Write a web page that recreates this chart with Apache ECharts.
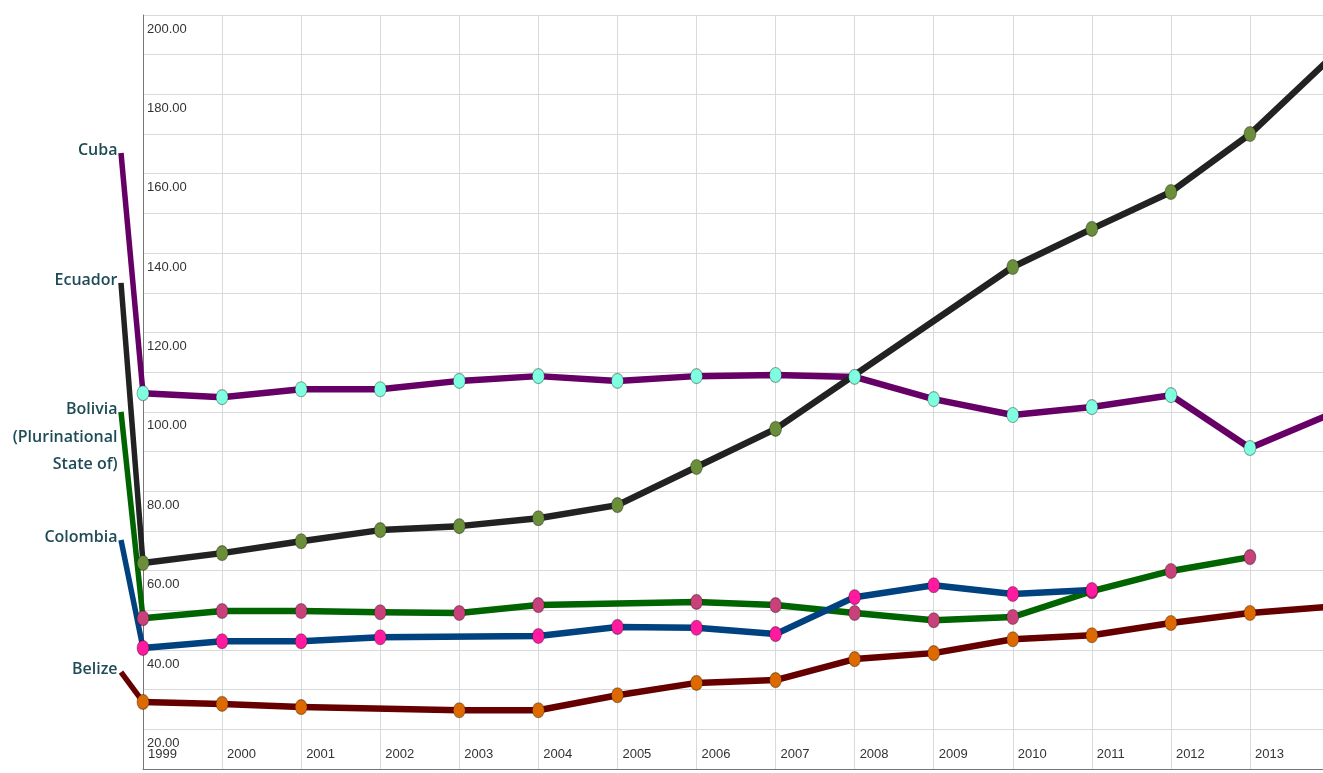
<!DOCTYPE html>
<html>
<head>
<meta charset="utf-8">
<style>
  html, body { margin: 0; padding: 0; background: #fff; }
  #chart { width: 1323px; height: 773px; }
</style>
<script src="https://cdn.jsdelivr.net/npm/echarts@6/dist/echarts.min.js"></script>
</head>
<body>
<div id="chart"></div>
<script>
// years on the x axis (2014 runs off the right edge of the picture)
var years = [1999, 2000, 2001, 2002, 2003, 2004, 2005, 2006, 2007, 2008, 2009, 2010, 2011, 2012, 2013, 2014];

// series values, null = no point for that year
var cuba     = [104.7, 103.7, 105.7, 105.7, 107.8, 109.0, 107.8, 109.0, 109.3, 108.8, 103.2, 99.2, 101.2, 104.2, 90.9, 99.3];
var ecuador  = [61.9, 64.4, 67.4, 70.2, 71.2, 73.2, 76.5, 86.1, 95.7, null, null, 136.5, 146.1, 155.4, 170.0, 188.8];
var bolivia  = [48.0, 49.8, 49.8, 49.5, 49.3, 51.3, null, 52.1, 51.3, 49.3, 47.5, 48.3, 54.8, 59.9, 63.4, null];
var colombia = [40.5, 42.2, 42.2, 43.2, null, 43.5, 45.8, 45.6, 44.0, 53.3, 56.3, 54.1, 55.1, null, null, null];
var belize   = [26.9, 26.4, 25.6, null, 24.8, 24.8, 28.6, 31.7, 32.4, 37.7, 39.2, 42.7, 43.7, 46.8, 49.3, 50.9];

// names shown at the left, and the value level where each leader line starts
var names = ['Belize', 'Bolivia\n(Plurinational\nState of)', 'Colombia', 'Cuba', 'Ecuador'];
var labelLevels = [34.4, 100.0, 67.7, 165.2, 132.5];

var values = [belize, bolivia, colombia, cuba, ecuador];
var lineColors = ['#660000', '#006400', '#00427f', '#660066', '#222222'];
var markColors = ['#dd6a00', '#c8417a', '#ff1aa0', '#7fffe0', '#6b8e3a'];

var chart = echarts.init(document.getElementById('chart'));

function pairs(arr) {
  var out = [];
  for (var i = 0; i < arr.length; i++) {
    if (arr[i] !== null) out.push([years[i], arr[i]]);
  }
  return out;
}

var series = [];
// lines first, markers on top of every line
for (var i = 0; i < values.length; i++) {
  series.push({
    type: 'line',
    data: pairs(values[i]),
    showSymbol: false,
    symbol: 'none',
    lineStyle: { color: lineColors[i], width: 6.5, join: 'round' },
    z: 2,
    silent: true
  });
}
for (var i = 0; i < values.length; i++) {
  series.push({
    type: 'scatter',
    data: pairs(values[i]).filter(function (p) { return p[0] < 2014; }),
    symbol: 'circle',
    symbolSize: [12, 15],
    itemStyle: { color: markColors[i], borderColor: 'rgba(0,0,0,0.35)', borderWidth: 1, opacity: 1 },
    z: 4,
    silent: true
  });
}
// leader lines from the names to the first point
for (var i = 0; i < values.length; i++) {
  series.push({
    type: 'line',
    xAxisIndex: 1,
    yAxisIndex: 1,
    data: [[0, labelLevels[i]], [1, values[i][0]]],
    symbol: 'circle',
    symbolSize: 1,
    showSymbol: true,
    itemStyle: { color: 'rgba(0,0,0,0)' },
    lineStyle: { color: lineColors[i], width: 5.5 },
    clip: false,
    z: 3,
    silent: true,
    label: {
      show: true,
      position: 'left',
      distance: 3,
      align: 'right',
      verticalAlign: 'top',
      offset: [0, -16],
      lineHeight: 27.5,
      color: '#1e4b56',
      fontFamily: 'Open Sans',
      fontWeight: 600,
      fontSize: 16,
      formatter: (function (n) {
        return function (p) { return p.dataIndex === 0 ? n : ''; };
      })(names[i])
    }
  });
}

var option = {
  animation: false,
  grid: [
    { left: 143, top: 15, right: 0, bottom: 4 },
    { left: 121, top: 15, width: 22, bottom: 4 }
  ],
  xAxis: [{
    type: 'value',
    min: 1999,
    max: 1999 + 1180 / 79.07,
    interval: 1,
    axisLine: { show: true, lineStyle: { color: '#777', width: 1 } },
    axisTick: { show: false },
    splitLine: { show: true, lineStyle: { color: '#d9d9d9', width: 1 } },
    axisLabel: {
      inside: true,
      margin: 8,
      align: 'left',
      padding: [0, 0, 0, 5],
      color: '#333',
      fontFamily: 'Liberation Sans',
      fontSize: 13,
      showMaxLabel: false,
      formatter: function (v) { return Math.round(v) === v ? String(v) : ''; }
    }
  }, {
    type: 'value', gridIndex: 1, min: 0, max: 1, show: false
  }],
  yAxis: [{
    type: 'value',
    min: 10,
    max: 200,
    interval: 10,
    axisLine: { show: true, lineStyle: { color: '#777', width: 1 } },
    axisTick: { show: false },
    splitLine: { show: true, lineStyle: { color: '#d9d9d9', width: 1 } },
    axisLabel: {
      inside: true,
      margin: 4,
      verticalAlign: 'top',
      lineHeight: 28,
      color: '#333',
      fontFamily: 'Liberation Sans',
      fontSize: 13,
      formatter: function (v) { return v % 20 === 0 ? v.toFixed(2) : ''; }
    }
  }, {
    type: 'value', gridIndex: 1, min: 10, max: 200, show: false
  }],
  series: series
};

chart.setOption(option);
</script>
</body>
</html>
